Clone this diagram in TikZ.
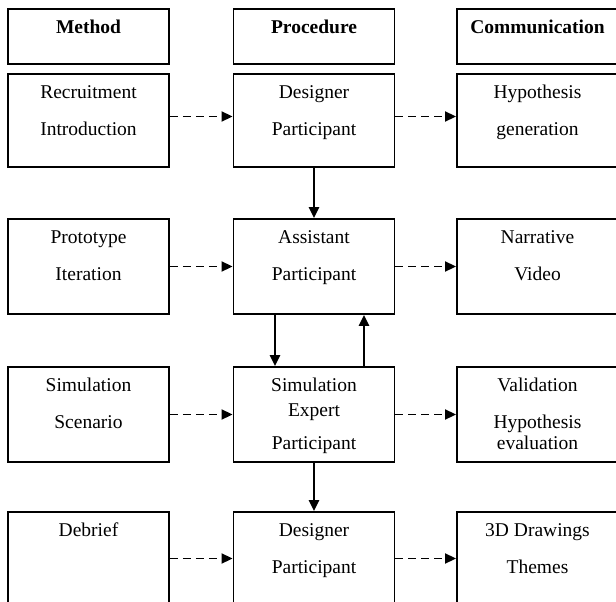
\documentclass[tikz,border=0pt]{standalone}
\usepackage{fontspec}
\setmainfont{Liberation Serif}
\usetikzlibrary{positioning,arrows.meta}

\begin{document}
\begin{tikzpicture}[x=1pt,y=-1pt,>={Triangle[length=11pt,width=10pt]},
  box/.style={draw,line width=1.9pt,minimum width=161pt,inner sep=0pt},
  txt/.style={align=center,inner sep=0pt,font=\fontsize{19.5}{37}\selectfont},
  hdr/.style={txt,font=\fontsize{19.5}{37}\selectfont\bfseries},
  flow/.style={->,line width=2.8pt},
  feed/.style={->,line width=1.9pt,dash pattern=on 8pt off 5pt}]
\useasboundingbox (0,0) rectangle (616,602);
\node[box,minimum height=55pt] (meth) at (88.5,36.5) {};
\node[box,minimum height=55pt] (proc) at (314,36.5) {};
\node[box,minimum height=55pt] (comm) at (537.5,36.5) {};
\node[hdr,below=12pt of meth.north] (metht) {Method};
\node[hdr,below=12pt of proc.north] (proct) {Procedure};
\node[hdr,below=12pt of comm.north] (commt) {Communication};

\node[box,minimum height=93pt] (m1) at (88.5,120.5) {};
\node[box,minimum height=93pt] (p1) at (314,120.5) {};
\node[box,minimum height=93pt] (c1) at (537.5,120.5) {};
\node[txt,below=12pt of m1.north] (m1t) {Recruitment\\Introduction};
\node[txt,below=12pt of p1.north] (p1t) {Designer\\Participant};
\node[txt,below=12pt of c1.north] (c1t) {Hypothesis\\generation};

\node[box,minimum height=95pt] (m2) at (88.5,266.5) {};
\node[box,minimum height=95pt] (p2) at (314,266.5) {};
\node[box,minimum height=95pt] (c2) at (537.5,266.5) {};
\node[txt,below=12pt of m2.north] (m2t) {Prototype\\Iteration};
\node[txt,below=12pt of p2.north] (p2t) {Assistant\\Participant};
\node[txt,below=12pt of c2.north] (c2t) {Narrative\\Video};

\node[box,minimum height=95pt] (m3) at (88.5,414.5) {};
\node[box,minimum height=95pt] (p3) at (314,414.5) {};
\node[box,minimum height=95pt] (c3) at (537.5,414.5) {};
\node[txt,below=12pt of m3.north] (m3t) {Simulation\\Scenario};
\node[txt,below=12pt of p3.north] (p3t) {Simulation\\[-12pt]Expert\\[-4pt]Participant};
\node[txt,below=12pt of c3.north] (c3t) {Validation\\Hypothesis\\[-16pt]evaluation};

\node[box,minimum height=93pt] (m4) at (88.5,558.5) {};
\node[box,minimum height=93pt] (p4) at (314,558.5) {};
\node[box,minimum height=93pt] (c4) at (537.5,558.5) {};
\node[txt,below=12pt of m4.north] (m4t) {Debrief};
\node[txt,below=12pt of p4.north] (p4t) {Designer\\Participant};
\node[txt,below=12pt of c4.north] (c4t) {3D Drawings\\Themes};

\draw[feed] ([yshift=4pt]m1.east) -- ([yshift=4pt]p1.west);
\draw[feed] ([yshift=4pt]p1.east) -- ([yshift=4pt]c1.west);
\draw[feed] (m2) -- (p2);
\draw[feed] (p2) -- (c2);
\draw[feed] (m3) -- (p3);
\draw[feed] (p3) -- (c3);
\draw[feed] (m4) -- (p4);
\draw[feed] (p4) -- (c4);

\draw[flow] (p1) -- (p2);
\draw[flow] ([xshift=-39pt]p2.south) -- ([xshift=-39pt]p3.north);
\draw[flow] ([xshift=50pt]p3.north) -- ([xshift=50pt]p2.south);
\draw[flow] (p3) -- (p4);
\end{tikzpicture}
\end{document}
